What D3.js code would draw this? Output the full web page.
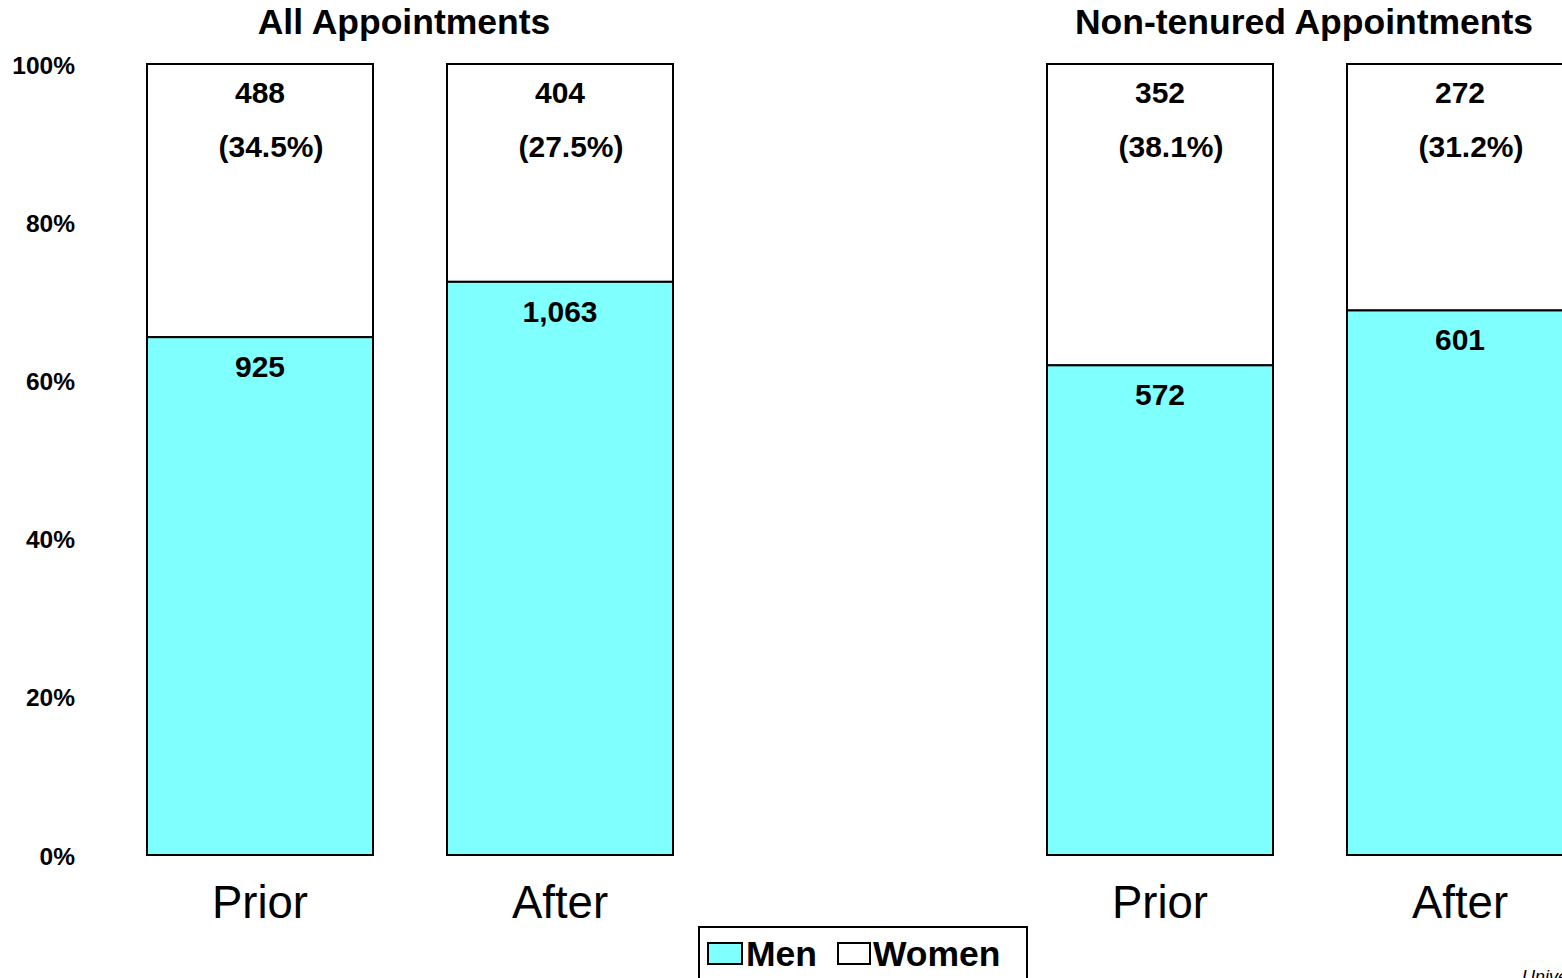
<!DOCTYPE html>
<html><head><meta charset="utf-8">
<script src="https://cdn.jsdelivr.net/npm/d3@7"></script>
<style>html,body{margin:0;padding:0;overflow:hidden;background:#fff}svg{display:block}text{font-family:"Liberation Sans",Arial,sans-serif}</style>
</head><body><svg id="c" width="1562" height="978"></svg>
<script>
const groups = ["All Appointments", "Non-tenured Appointments"];
const periods = ["Prior", "After"];
const men = [925, 1063, 572, 601];
const women = [488, 404, 352, 272];
const womenPct = ["(34.5%)", "(27.5%)", "(38.1%)", "(31.2%)"];
const yTicks = [0, 20, 40, 60, 80, 100];
const legendItems = ["Men", "Women"];
const colors = {Men: "#80FFFF", Women: "#FFFFFF"};

const svg = d3.select("#c");
const slots = ["g0p0", "g0p1", "gap", "g1p0", "g1p1"];
const x = d3.scaleBand().domain(slots).range([110, 1610]).paddingInner(74/300).paddingOuter(37/300);
const y = d3.scaleLinear().domain([0, 100]).range([855, 64]);

const data = [];
groups.forEach((g, gi) => periods.forEach((p, pi) => {
  const i = gi * 2 + pi;
  const tot = men[i] + women[i];
  data.push({key: `g${gi}p${pi}`, period: p, men: men[i], women: women[i], pct: womenPct[i], menShare: men[i] / tot * 100});
}));

// y tick labels
svg.append("g").selectAll("text").data(yTicks).join("text")
  .attr("x", 75).attr("y", d => y(d) + 1).attr("dy", "0.35em")
  .attr("text-anchor", "end").attr("font-weight", "bold").attr("font-size", 24.5)
  .text(d => d + "%");

const bw = x.bandwidth();
const bars = svg.append("g").selectAll("g").data(data).join("g");
bars.append("rect").attr("x", d => x(d.key)).attr("width", bw)
  .attr("y", y(100)).attr("height", d => y(d.menShare) - y(100))
  .attr("fill", colors.Women).attr("stroke", "#000").attr("stroke-width", 2);
bars.append("rect").attr("x", d => x(d.key)).attr("width", bw)
  .attr("y", d => y(d.menShare)).attr("height", d => y(0) - y(d.menShare))
  .attr("fill", colors.Men).attr("stroke", "#000").attr("stroke-width", 2);

const fmt = d3.format(",");
bars.append("text").attr("x", d => x(d.key) + bw / 2).attr("y", y(100) + 39)
  .attr("text-anchor", "middle").attr("font-weight", "bold").attr("font-size", 30)
  .text(d => fmt(d.women));
bars.append("text").attr("x", d => x(d.key) + bw / 2 + 11).attr("y", y(100) + 93)
  .attr("text-anchor", "middle").attr("font-weight", "bold").attr("font-size", 30)
  .text(d => d.pct);
bars.append("text").attr("x", d => x(d.key) + bw / 2).attr("y", d => y(d.menShare) + 40)
  .attr("text-anchor", "middle").attr("font-weight", "bold").attr("font-size", 30)
  .text(d => fmt(d.men));
bars.append("text").attr("x", d => x(d.key) + bw / 2).attr("y", 918)
  .attr("text-anchor", "middle").attr("font-size", 45.5)
  .text(d => d.period);

// group titles
svg.append("g").selectAll("text").data(groups).join("text")
  .attr("x", (g, gi) => (x(`g${gi}p0`) + x(`g${gi}p1`) + bw) / 2 - 6)
  .attr("y", 34).attr("text-anchor", "middle").attr("font-weight", "bold").attr("font-size", 35.5)
  .text(g => g);

// legend
const lg = svg.append("g");
lg.append("rect").attr("x", 699).attr("y", 927).attr("width", 328).attr("height", 70)
  .attr("fill", "#fff").attr("stroke", "#000").attr("stroke-width", 2);
const lx = [708, 838];
const li = lg.selectAll("g").data(legendItems).join("g");
li.append("rect").attr("x", (d, i) => lx[i]).attr("y", 943).attr("width", (d, i) => i ? 32 : 34).attr("height", 21)
  .attr("fill", d => colors[d]).attr("stroke", "#000").attr("stroke-width", 2);
li.append("text").attr("x", (d, i) => lx[i] + (i ? 35 : 38)).attr("y", 966)
  .attr("font-weight", "bold").attr("font-size", 35.5).text(d => d);

svg.append("text").attr("x", 1522).attr("y", 983).attr("font-style", "italic").attr("font-size", 18).text("University");
</script></body></html>
